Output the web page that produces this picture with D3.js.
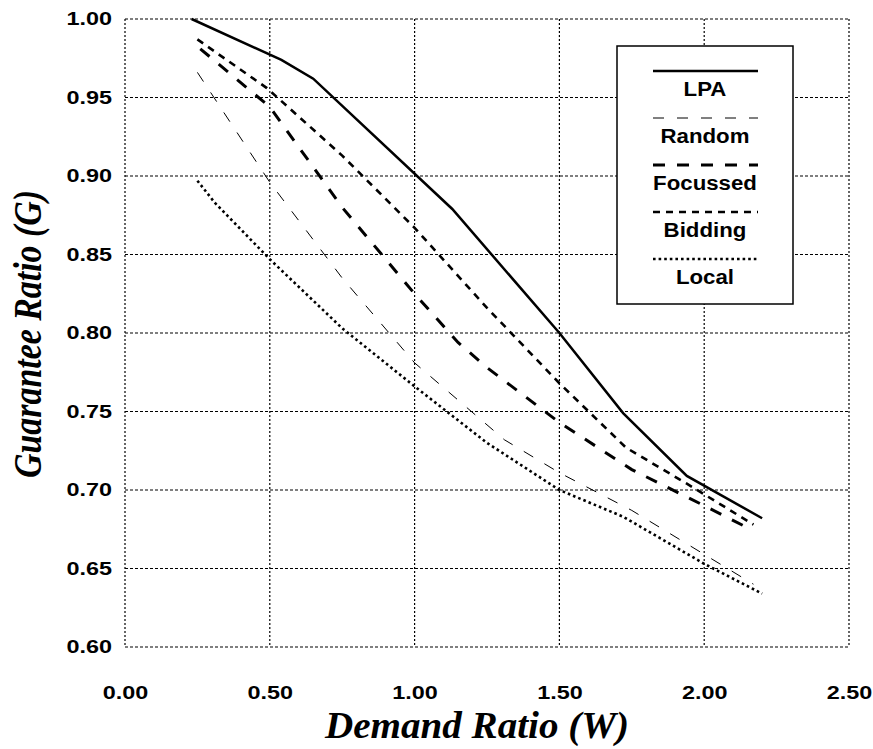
<!DOCTYPE html>
<html>
<head>
<meta charset="utf-8">
<script src="https://cdn.jsdelivr.net/npm/d3@7"></script>
<style>
  html, body { margin: 0; padding: 0; background: #fff; }
  svg { display: block; }
</style>
</head>
<body>
<svg id="chart" width="873" height="749"></svg>
<script>
// Demand ratio (W) vs guarantee ratio (G) for five allocation strategies
const lpaW = [0.23, 0.54, 0.65, 1.13, 1.50, 1.72, 1.94, 2.20];
const lpaG = [1.000, 0.974, 0.962, 0.879, 0.800, 0.749, 0.709, 0.682];

const randomW = [0.25, 0.50, 0.75, 1.00, 1.31, 1.50, 1.75, 2.00, 2.17];
const randomG = [0.966, 0.896, 0.835, 0.781, 0.732, 0.711, 0.687, 0.659, 0.640];

const focussedW = [0.26, 0.50, 0.75, 1.00, 1.15, 1.25, 1.50, 1.75, 2.00, 2.16];
const focussedG = [0.981, 0.944, 0.880, 0.825, 0.794, 0.778, 0.743, 0.713, 0.690, 0.675];

const biddingW = [0.25, 0.49, 0.75, 1.00, 1.25, 1.50, 1.73, 1.94, 2.17];
const biddingG = [0.987, 0.956, 0.913, 0.867, 0.816, 0.768, 0.727, 0.704, 0.678];

const localW = [0.25, 0.31, 0.50, 0.75, 1.00, 1.25, 1.50, 1.72, 2.00, 2.20];
const localG = [0.897, 0.883, 0.847, 0.803, 0.766, 0.730, 0.700, 0.683, 0.653, 0.634];

const seriesNames = ["LPA", "Random", "Focussed", "Bidding", "Local"];
const xTicks = [0.0, 0.5, 1.0, 1.5, 2.0, 2.5];
const yTicks = [0.60, 0.65, 0.70, 0.75, 0.80, 0.85, 0.90, 0.95, 1.00];

const series = [
  { name: seriesNames[0], w: lpaW, g: lpaG, width: 2.5, dash: null },
  { name: seriesNames[1], w: randomW, g: randomG, width: 1, dash: "11,13" },
  { name: seriesNames[2], w: focussedW, g: focussedG, width: 3, dash: "12,12" },
  { name: seriesNames[3], w: biddingW, g: biddingG, width: 2.6, dash: "7,6" },
  { name: seriesNames[4], w: localW, g: localG, width: 2.6, dash: "2.6,3" }
];

const svg = d3.select("#chart");
const plotLeft = 125, plotRight = 849, plotTop = 19, plotBottom = 647;

const x = d3.scaleLinear().domain([0, 2.5]).range([plotLeft, plotRight]);
const y = d3.scaleLinear().domain([0.6, 1.0]).range([plotBottom, plotTop]);

// widen (or narrow) a text run by a horizontal factor along its baseline
function stretch(sel, factor) {
  sel.each(function () {
    const len = this.getComputedTextLength();
    d3.select(this)
      .attr("textLength", len * factor)
      .attr("lengthAdjust", "spacingAndGlyphs");
  });
}

// grid
const grid = svg.append("g");
grid.selectAll("line.h").data(yTicks).join("line")
  .attr("x1", plotLeft).attr("x2", plotRight)
  .attr("y1", d => y(d)).attr("y2", d => y(d))
  .attr("stroke", "#000").attr("stroke-width", 1.2)
  .attr("stroke-dasharray", "3,2");
grid.selectAll("line.v").data(xTicks).join("line")
  .attr("y1", plotTop).attr("y2", plotBottom)
  .attr("x1", d => x(d)).attr("x2", d => x(d))
  .attr("stroke", "#000").attr("stroke-width", 1.2)
  .attr("stroke-dasharray", "2,2");

// axes (labels only; the grid frames the plot)
const fmt = d3.format(".2f");
const yAxis = svg.append("g").attr("transform", `translate(${plotLeft},0)`)
  .call(d3.axisLeft(y).tickValues(yTicks).tickFormat(fmt).tickSize(0).tickPadding(13));
const xAxis = svg.append("g").attr("transform", `translate(0,${plotBottom})`)
  .call(d3.axisBottom(x).tickValues(xTicks).tickFormat(fmt).tickSize(0).tickPadding(39));
[yAxis, xAxis].forEach(a => {
  a.select(".domain").remove();
  a.selectAll("text")
    .attr("font-family", "Liberation Sans, Arial, sans-serif")
    .attr("font-weight", "bold")
    .attr("font-size", 18)
    .attr("fill", "#000")
    .call(stretch, 1.3);
});

// series lines
const line = d3.line().x(d => x(d[0])).y(d => y(d[1]));
svg.append("g").selectAll("path").data(series).join("path")
  .attr("d", s => line(s.w.map((w, i) => [w, s.g[i]])))
  .attr("fill", "none")
  .attr("stroke", "#000")
  .attr("stroke-width", s => s.width)
  .attr("stroke-dasharray", s => s.dash)
  .attr("stroke-linejoin", "miter");

// legend
const legend = svg.append("g");
legend.append("rect")
  .attr("x", 617).attr("y", 46).attr("width", 176).attr("height", 258)
  .attr("fill", "#fff").attr("stroke", "#000").attr("stroke-width", 1.5);
const item = legend.selectAll("g.item").data(series).join("g")
  .attr("transform", (d, i) => `translate(0,${71 + i * 47})`);
item.append("line")
  .attr("x1", 653).attr("x2", 758).attr("y1", 0).attr("y2", 0)
  .attr("stroke", "#000")
  .attr("stroke-width", s => s.width)
  .attr("stroke-dasharray", s => s.dash);
item.append("text")
  .attr("x", 705).attr("y", 25)
  .attr("text-anchor", "middle")
  .attr("font-family", "Liberation Sans, Arial, sans-serif")
  .attr("font-weight", "bold")
  .attr("font-size", 19.5)
  .text(s => s.name)
  .call(stretch, 1.14);

// axis titles
svg.append("text")
  .attr("x", 477).attr("y", 738)
  .attr("text-anchor", "middle")
  .attr("font-family", "Liberation Serif, Times New Roman, serif")
  .attr("font-weight", "bold").attr("font-style", "italic")
  .attr("font-size", 37)
  .text("Demand Ratio (W)")
  .call(sel => sel.attr("textLength", 304).attr("lengthAdjust", "spacingAndGlyphs"));
svg.append("text")
  .attr("transform", `translate(41,334) rotate(-90)`)
  .attr("text-anchor", "middle")
  .attr("font-family", "Liberation Serif, Times New Roman, serif")
  .attr("font-weight", "bold").attr("font-style", "italic")
  .attr("font-size", 40)
  .text("Guarantee Ratio (G)")
  .call(sel => sel.attr("textLength", 288).attr("lengthAdjust", "spacingAndGlyphs"));
</script>
</body>
</html>
